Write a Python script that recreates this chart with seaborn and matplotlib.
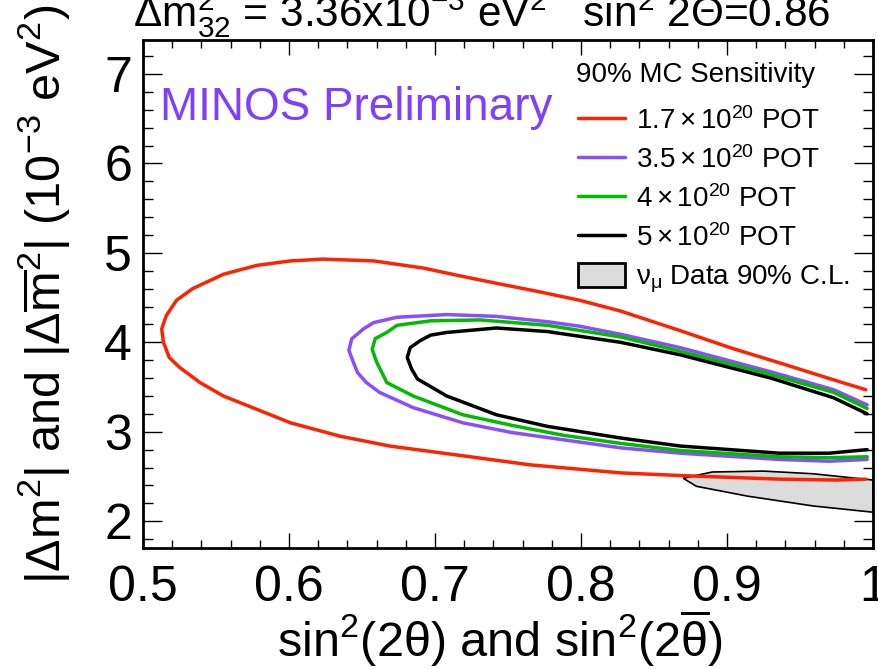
import numpy as np
import pandas as pd
import seaborn as sns
import matplotlib.pyplot as plt
from matplotlib.lines import Line2D
from matplotlib.patches import Patch
from matplotlib.ticker import MultipleLocator, FixedLocator, FixedFormatter

# 90% C.L. sensitivity contours (sin^2(2theta), |dm^2| in 1e-3 eV^2),
# traced from the upper branch at the physical edge round to the lower branch.
red_x = [0.995, 0.975, 0.936, 0.904, 0.868, 0.827, 0.799, 0.770, 0.742, 0.715, 0.692, 0.658, 0.623, 0.601,
         0.578, 0.555, 0.534, 0.523, 0.516, 0.5128, 0.514, 0.518, 0.525, 0.539, 0.555, 0.578, 0.601,
         0.635, 0.669, 0.715, 0.765, 0.827, 0.868, 0.936, 0.975, 0.995]
red_y = [3.47, 3.57, 3.77, 3.93, 4.13, 4.35, 4.47, 4.57, 4.66, 4.75, 4.83, 4.91, 4.93, 4.91,
         4.86, 4.76, 4.60, 4.47, 4.30, 4.15, 4.00, 3.83, 3.72, 3.55, 3.40, 3.25, 3.10,
         2.95, 2.84, 2.74, 2.63, 2.54, 2.51, 2.47, 2.46, 2.47]

purple_x = [0.996, 0.973, 0.930, 0.868, 0.827, 0.799, 0.777, 0.742, 0.708, 0.674, 0.658, 0.651, 0.643, 0.641,
            0.644, 0.647, 0.653, 0.662, 0.685, 0.719, 0.753, 0.788, 0.827, 0.868, 0.936, 0.970, 0.996]
purple_y = [3.30, 3.47, 3.67, 3.94, 4.09, 4.18, 4.23, 4.29, 4.31, 4.28, 4.22, 4.15, 4.04, 3.91,
            3.78, 3.66, 3.55, 3.44, 3.27, 3.10, 2.99, 2.91, 2.82, 2.76, 2.69, 2.67, 2.69]

green_x = [0.996, 0.973, 0.930, 0.868, 0.827, 0.777, 0.731, 0.697, 0.674, 0.667, 0.659, 0.657,
           0.660, 0.667, 0.685, 0.719, 0.753, 0.788, 0.827, 0.868, 0.936, 0.970, 0.996]
green_y = [3.26, 3.44, 3.64, 3.90, 4.06, 4.19, 4.25, 4.24, 4.19, 4.11, 4.04, 3.92,
           3.78, 3.55, 3.40, 3.19, 3.07, 2.96, 2.87, 2.79, 2.72, 2.71, 2.72]

black_x = [0.996, 0.973, 0.930, 0.868, 0.827, 0.777, 0.742, 0.708, 0.697, 0.690, 0.683, 0.681,
           0.684, 0.688, 0.708, 0.742, 0.777, 0.827, 0.868, 0.936, 0.970, 0.996]
black_y = [3.20, 3.38, 3.60, 3.86, 4.00, 4.12, 4.16, 4.11, 4.08, 4.02, 3.94, 3.83,
           3.70, 3.59, 3.40, 3.19, 3.06, 2.93, 2.84, 2.76, 2.76, 2.80]

# Measured nu_mu data 90% C.L. region
data_x = [1.0, 0.959, 0.925, 0.890, 0.870, 0.879, 0.914, 0.959, 1.0]
data_y = [2.46, 2.53, 2.56, 2.55, 2.48, 2.39, 2.28, 2.17, 2.10]

series_names = ["1.7e20", "3.5e20", "4e20", "5e20"]
legend_labels = [r"$1.7\times10^{20}$ POT", r"$3.5\times10^{20}$ POT",
                 r"$4\times10^{20}$ POT", r"$5\times10^{20}$ POT"]
data_label = r"$\nu_{\mu}$ Data 90% C.L."
legend_title = "90% MC Sensitivity"

x_ticks = [0.5, 0.6, 0.7, 0.8, 0.9, 1.0]
x_tick_labels = ["0.5", "0.6", "0.7", "0.8", "0.9", "1"]
y_ticks = [2, 3, 4, 5, 6, 7]
y_tick_labels = ["2", "3", "4", "5", "6", "7"]

title_text = r"$\Delta m^{2}_{32}$ = 3.36x10$^{-3}$ eV$^{2}$   sin$^{2}$ 2$\Theta$=0.86"
xlabel_text = r"sin$^{2}$(2$\theta$) and sin$^{2}$(2$\overline{\theta}$)"
ylabel_text = r"$|\Delta m^{2}|$ and $|\Delta \overline{m}^{2}|$ ($10^{-3}$ eV$^{2}$)"
tag_text = "MINOS Preliminary"

colors = {"1.7e20": "#ff2200", "3.5e20": "#8a4dff", "4e20": "#00bb00", "5e20": "#000000"}

sns.set_theme(style="ticks")
plt.rcParams.update({
    "mathtext.fontset": "custom",
    "mathtext.rm": "Liberation Sans",
    "mathtext.it": "Liberation Sans:italic",
    "mathtext.bf": "Liberation Sans:bold",
    "mathtext.sf": "Liberation Sans",
    "mathtext.default": "regular",
    "axes.linewidth": 2.0,
    "axes.edgecolor": "black",
    "text.color": "black",
    "axes.labelcolor": "black",
    "xtick.color": "black",
    "ytick.color": "black",
})
plt.rcParams["font.family"] = ["Liberation Sans", "DejaVu Sans"]

W, H = 879, 669
fig = plt.figure(figsize=(W / 100, H / 100), dpi=100)
L, R, T, B = 143, 873, 40, 548
ax = fig.add_axes([L / W, 1 - B / H, (R - L) / W, (B - T) / H])

# long-form table of all sensitivity contours
frames = []
for name, xs, ys in zip(series_names, [red_x, purple_x, green_x, black_x],
                        [red_y, purple_y, green_y, black_y]):
    frames.append(pd.DataFrame({"x": xs, "y": ys, "exposure": name, "step": range(len(xs))}))
contours = pd.concat(frames, ignore_index=True)

# data region first so contours lie on top
ax.fill(data_x, data_y, facecolor="#dcdcdc", edgecolor="black", lw=1.2, zorder=1)

sns.lineplot(data=contours, x="x", y="y", hue="exposure", units="exposure",
             estimator=None, sort=False, palette=colors, linewidth=2.5,
             legend=False, ax=ax, zorder=2)
for line in ax.lines:
    line.set_solid_joinstyle("round")

ax.set_xlim(0.5, 1.0)
ax.set_ylim(1.7, 7.38)
ax.xaxis.set_major_locator(FixedLocator(x_ticks))
ax.xaxis.set_major_formatter(FixedFormatter(x_tick_labels))
ax.yaxis.set_major_locator(FixedLocator(y_ticks))
ax.yaxis.set_major_formatter(FixedFormatter(y_tick_labels))
ax.xaxis.set_minor_locator(MultipleLocator(0.02))
ax.yaxis.set_minor_locator(MultipleLocator(0.2))
ax.tick_params(which="both", direction="in", top=True, right=True, width=1.0, color="black")
ax.tick_params(axis="x", which="major", length=11, labelsize=36, pad=12)
ax.tick_params(axis="x", which="minor", length=6)
ax.tick_params(axis="y", which="major", length=14, labelsize=36, pad=8)
ax.tick_params(axis="y", which="minor", length=7)
for s in ax.spines.values():
    s.set_visible(True)
    s.set_linewidth(2.0)

ax.set_xlabel(xlabel_text, fontsize=35)
ax.xaxis.set_label_coords((500 - L) / (R - L), (B - 608) / (B - T))
ax.set_ylabel(ylabel_text, fontsize=35)
ax.yaxis.set_label_coords((72 - L) / (R - L), 0.5)

ax.text((160 - L) / (R - L), (B - 108) / (B - T), tag_text, transform=ax.transAxes,
        fontsize=33, color="#7f3fff", ha="left", va="center")

fig.text(133 / W, 1 - 26 / H, title_text, fontsize=30.5, ha="left", va="baseline")

# legend heading drawn on its own, entries below it
fig.text(576 / W, 1 - 75 / H, legend_title, fontsize=20, ha="left", va="center")
handles = [Line2D([], [], color=colors[n], lw=2.5) for n in series_names]
handles.append(Patch(facecolor="#dcdcdc", edgecolor="black", lw=2.0))
leg = ax.legend(handles, legend_labels + [data_label],
                loc="upper left", bbox_to_anchor=(578 / W, 1 - 107 / H),
                bbox_transform=fig.transFigure, frameon=False, fontsize=20,
                handlelength=1.7, handleheight=0.95,
                handletextpad=0.4, labelspacing=0.4, borderpad=0, borderaxespad=0,
                alignment="left")

fig.savefig("out.png", dpi=100)
